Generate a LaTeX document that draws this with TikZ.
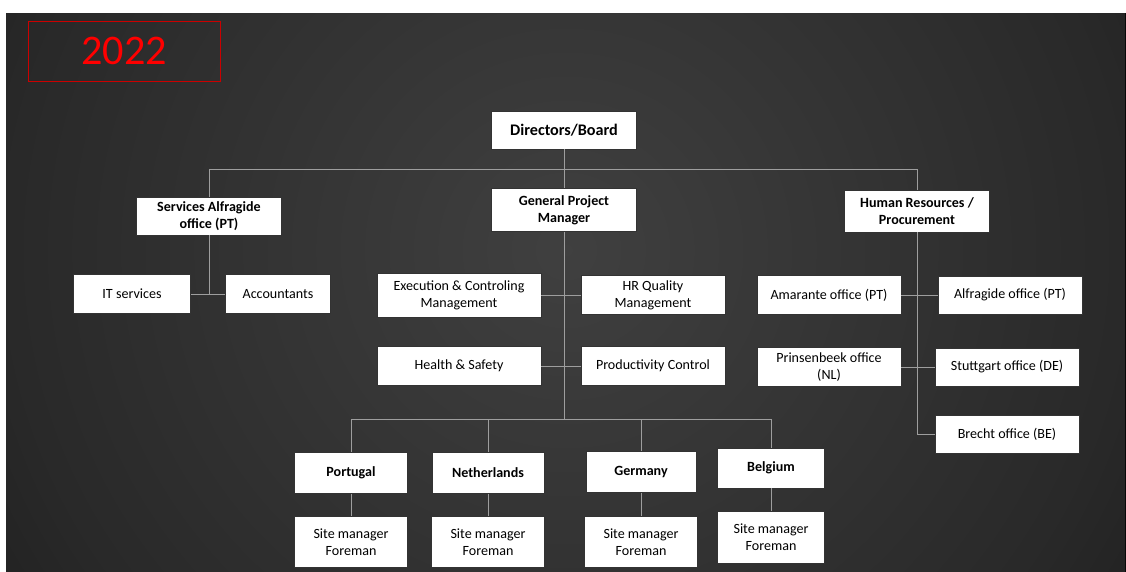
\documentclass[tikz,border=0pt]{standalone}
\usepackage{fontspec}
\setmainfont{Carlito}
\pgfdeclareradialshading{bgglow}{\pgfpoint{0bp}{0bp}}{color(0bp)=(black!75); color(25bp)=(black!84); color(50bp)=(black!97)}
\newcommand{\px}{0.025cm}
\tikzset{
  box/.style = {draw=black!80, line width=0.5pt, fill=white, align=center,
    inner sep=1pt, font=\fontsize{10}{12.2}\selectfont},
  head/.style = {box, font=\bfseries\fontsize{10}{12.2}\selectfont},
  wh/.style 2 args = {minimum width=#1*\px, minimum height=#2*\px},
  link/.style = {draw=black!38, line width=0.6pt}
}

\begin{document}
\begin{tikzpicture}[x=0.025cm,y=-0.025cm]
  \useasboundingbox[fill=white] (0,0) rectangle (1126,572);
  % background
  \begin{scope}
    \clip (6,13) rectangle (1132,580);
    \shade[shading=bgglow] (6,-300) rectangle (1126,800);
    \fill[black!97] (1125,13) rectangle (1132,580);
  \end{scope}

  \node[draw=red!80!black, line width=0.6pt, wh={192}{60}, text=red,
    font=\fontsize{30}{36}\selectfont] (year) at (124,51) {2022};

  % top levels
  \node[head, wh={145}{38}, font=\bfseries\fontsize{11.5}{14}\selectfont] (dir) at (564,130) {Directors/Board};
  \node[head, wh={145}{43}] (gpm) at (564,210) {General Project\\Manager};
  \node[head, wh={145}{38}] (svc) at (209,216) {Services Alfragide\\office (PT)};
  \node[head, wh={145}{42}] (hr) at (917,211) {Human Resources /\\Procurement};

  % services
  \node[box, wh={117}{39}] (its) at (132,294) {IT services};
  \node[box, wh={105}{39}] (acc) at (278,294) {Accountants};

  % project management
  \node[box, wh={164}{44}] (exec) at (459,295) {Execution \& Controling\\Management};
  \node[box, wh={144}{39}] (hrq) at (653,295) {HR Quality\\Management};
  \node[box, wh={164}{39}] (hs) at (459,366) {Health \& Safety};
  \node[box, wh={144}{39}] (prod) at (653,366) {Productivity Control};

  % offices
  \node[box, wh={144}{39}] (ama) at (829,295) {Amarante office (PT)};
  \node[box, wh={144}{38}] (alf) at (1010,295) {Alfragide office (PT)};
  \node[box, wh={144}{39}] (prin) at (829,367) {Prinsenbeek office\\(NL)};
  \node[box, wh={144}{38}] (stu) at (1007,367) {Stuttgart office (DE)};
  \node[box, wh={144}{38}] (brecht) at (1007,434) {Brecht office (BE)};

  % countries
  \node[head, wh={113}{41}] (pt) at (351,473) {Portugal};
  \node[head, wh={112}{41}] (nl) at (488,473) {Netherlands};
  \node[head, wh={110}{41}] (de) at (641,472) {Germany};
  \node[head, wh={107}{40}] (be) at (771,468) {Belgium};
  \node[box, wh={113}{51}] (ptsm) at (351,542) {Site manager\\Foreman};
  \node[box, wh={113}{51}] (nlsm) at (488,542) {Site manager\\Foreman};
  \node[box, wh={113}{51}] (desm) at (641,542) {Site manager\\Foreman};
  \node[box, wh={107}{52}] (besm) at (771,537) {Site manager\\Foreman};

  % connectors
  \coordinate (bus) at (564,169);
  \coordinate (cbus) at (564,419);
  \draw[link] (dir) -- (gpm);
  \draw[link] (bus) -| (svc);
  \draw[link] (bus) -| (hr);
  \draw[link] (svc) |- (its);
  \draw[link] (svc) |- (acc);
  \draw[link] (gpm) -- (cbus);
  \draw[link] (exec) -- (hrq);
  \draw[link] (hs) -- (prod);
  \draw[link] (hr) |- (brecht);
  \draw[link] (ama) -- (alf);
  \draw[link] (prin) -- (stu);
  \foreach \c in {pt,nl,de,be}{
    \draw[link] (cbus) -| (\c);
    \draw[link] (\c) -- (\c sm);
  }
\end{tikzpicture}
\end{document}
